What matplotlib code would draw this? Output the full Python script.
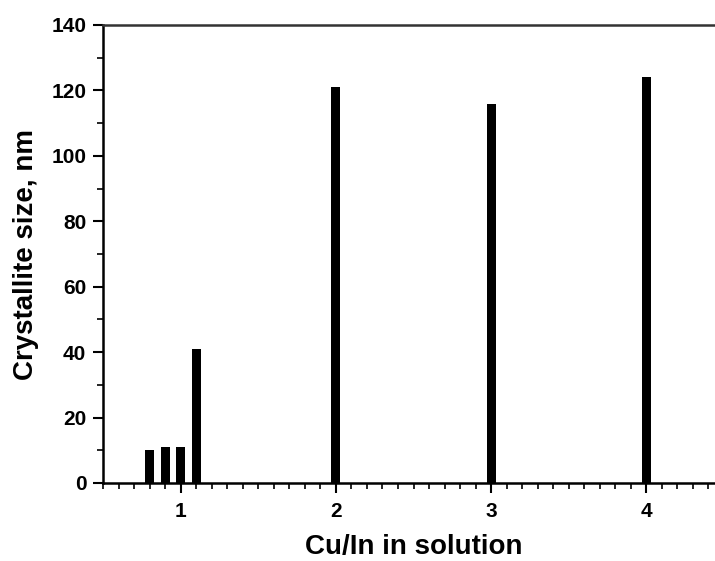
import matplotlib.pyplot as plt
from matplotlib.ticker import MultipleLocator

ratio = [0.8, 0.9, 1.0, 1.1, 2.0, 3.0, 4.0]
size_nm = [10, 11, 11, 41, 121, 116, 124]

plt.rcParams['font.family'] = ['Liberation Sans', 'DejaVu Sans']
plt.rcParams['font.weight'] = 'bold'

fig = plt.figure(figsize=(7.15, 5.61), dpi=100)
# axes run slightly past the right edge, as in the original crop
ax = fig.add_axes([103 / 715, 78 / 561, 621 / 715, 458 / 561])

ax.bar(ratio, size_nm, width=0.057, color='black', align='center')

ax.set_xlim(0.5, 4.5)
ax.set_ylim(0, 140)
ax.xaxis.set_major_locator(MultipleLocator(1))
ax.xaxis.set_minor_locator(MultipleLocator(0.1))
ax.yaxis.set_major_locator(MultipleLocator(20))
ax.yaxis.set_minor_locator(MultipleLocator(10))

ax.tick_params(which='major', direction='out', length=7, width=1.5, labelsize=15)
ax.tick_params(axis='x', which='major', pad=7)
ax.tick_params(axis='y', which='major', pad=5)
ax.tick_params(which='minor', direction='out', length=4, width=1.2)
for lab in ax.get_xticklabels() + ax.get_yticklabels():
    lab.set_fontweight('bold')

for side in ['left', 'bottom']:
    ax.spines[side].set_linewidth(1.8)
ax.spines['top'].set_linewidth(1.8)
ax.spines['top'].set_color('#333333')
ax.spines['right'].set_visible(False)

ax.set_xlabel('Cu/In in solution', fontsize=20, fontweight='bold', labelpad=9)
ax.set_ylabel('Crystallite size, nm', fontsize=20, fontweight='bold', labelpad=9)

fig.savefig('out.png', dpi=100)
